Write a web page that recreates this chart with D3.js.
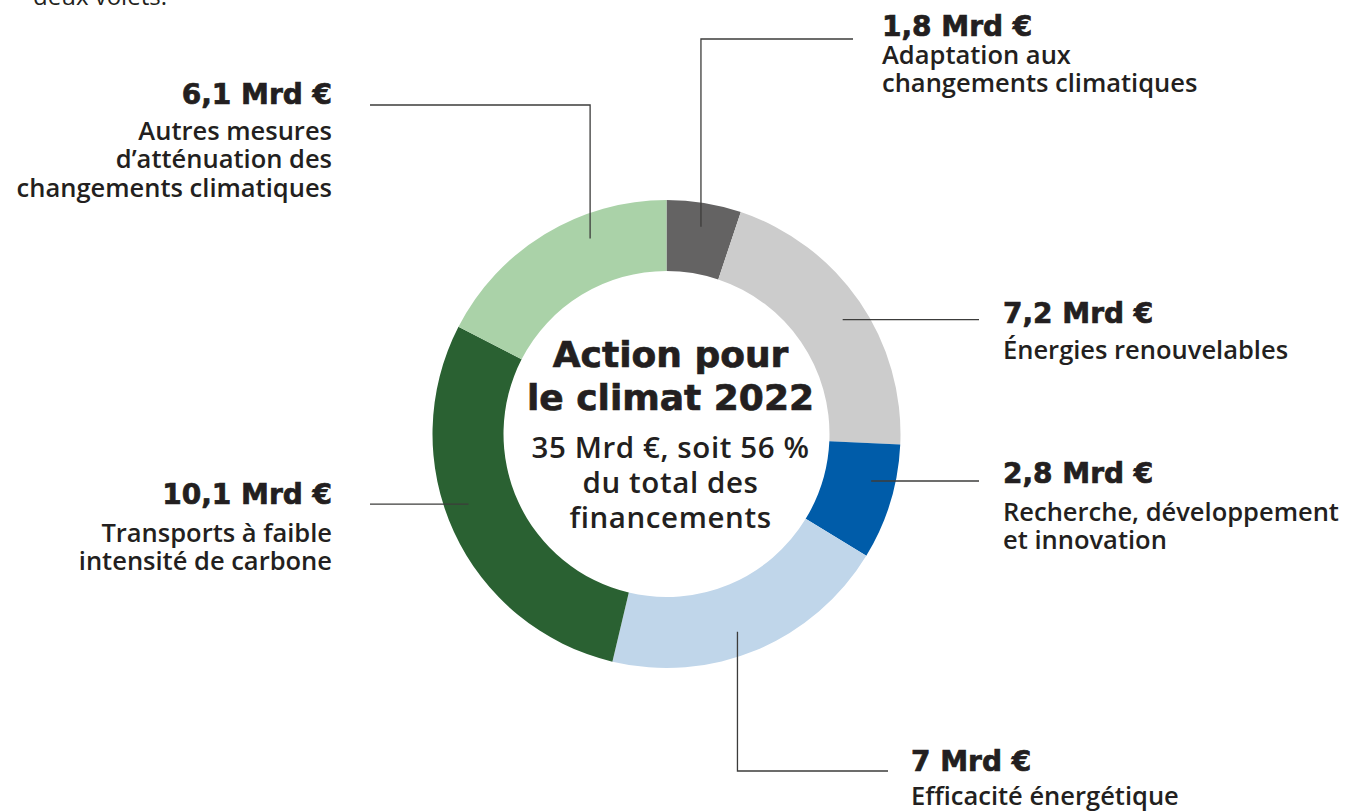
<!DOCTYPE html>
<html>
<head>
<meta charset="utf-8">
<script src="https://cdn.jsdelivr.net/npm/d3@7"></script>
<style>
  body { margin: 0; background: #fff; }
  svg { display: block; }
  .val { font-family: "DejaVu Sans", sans-serif; font-weight: 700; font-size: 28px; fill: #231f20;
         stroke: #231f20; stroke-width: 0.7px; }
  .sub { font-family: "Open Sans", sans-serif; font-weight: 600; font-size: 25.5px; fill: #231f20; }
</style>
</head>
<body>
<script>
let width = 1354,
    height = 811;

// data, clockwise from 12 o'clock
let categories = ["Adaptation aux changements climatiques",
                  "Énergies renouvelables",
                  "Recherche, développement et innovation",
                  "Efficacité énergétique",
                  "Transports à faible intensité de carbone",
                  "Autres mesures d’atténuation des changements climatiques"];
let values = [1.8, 7.2, 2.8, 7, 10.1, 6.1];
let valueLabels = ["1,8 Mrd €", "7,2 Mrd €", "2,8 Mrd €", "7 Mrd €", "10,1 Mrd €", "6,1 Mrd €"];
let labelLines = [["Adaptation aux", "changements climatiques"],
                  ["Énergies renouvelables"],
                  ["Recherche, développement", "et innovation"],
                  ["Efficacité énergétique"],
                  ["Transports à faible", "intensité de carbone"],
                  ["Autres mesures", "d’atténuation des", "changements climatiques"]];
let colors = ["#646363", "#cccccc", "#005ca9", "#c0d6ea", "#2a6132", "#aad2a8"];

let centerTitle = ["Action pour", "le climat 2022"];
let centerText = ["35 Mrd €, soit 56 %", "du total des", "financements"];

// layout of the callouts (t = position of the leader start inside the slice)
let callouts = [
  {t: 0.51, kind: "v", lineY: 39, endX: 853, x: 882, anchor: "start", valY: 36, subY: [64, 92]},
  {t: 0.52, kind: "h", endX: 979, x: 1003, anchor: "start", valY: 323, subY: [359]},
  {t: 0.36, kind: "h", endX: 979, x: 1003, anchor: "start", valY: 483, subY: [521, 549]},
  {t: 0.54, kind: "v", lineY: 771, endX: 888, x: 911, anchor: "start", valY: 771, subY: [805]},
  {t: 0.55, kind: "h", endX: 370, x: 332, anchor: "end", valY: 504, subY: [542, 570]},
  {t: 0.66, kind: "v", lineY: 105, endX: 370, x: 332, anchor: "end", valY: 104, subY: [140, 168, 197]}
];

let cx = 666.5, cy = 434,
    outerR = 234, innerR = 163, leaderR = 210;

let svg = d3.select("body")
            .append("svg")
            .attr("width", width)
            .attr("height", height);

// cut-off text from the page above
svg.append("text")
   .attr("class", "sub")
   .attr("x", 33)
   .attr("y", 5)
   .style("font-weight", 400)
   .style("font-size", "24px")
   .text("deux volets.");

let pie = d3.pie().sort(null).value(function(d) { return d; });
let arcs = pie(values);

let arc = d3.arc().innerRadius(innerR).outerRadius(outerR);

let g = svg.append("g").attr("transform", "translate(" + cx + "," + cy + ")");

g.selectAll("path.slice")
 .data(arcs)
 .enter()
 .append("path")
 .attr("class", "slice")
 .attr("d", arc)
 .attr("fill", function(d, i) { return colors[i]; });

// leader lines
function leaderPoints(d, i) {
  let c = callouts[i];
  let a = d.startAngle + (d.endAngle - d.startAngle) * c.t;
  let x0 = cx + leaderR * Math.sin(a),
      y0 = cy - leaderR * Math.cos(a);
  if (c.kind == "h") return [[x0, y0], [c.endX, y0]];
  return [[x0, y0], [x0, c.lineY], [c.endX, c.lineY]];
}

svg.selectAll("path.leader")
   .data(arcs)
   .enter()
   .append("path")
   .attr("class", "leader")
   .attr("d", function(d, i) { return d3.line()(leaderPoints(d, i)); })
   .attr("fill", "none")
   .attr("stroke", "#3c3c3b")
   .attr("stroke-width", 1.3);

// callout texts
let labels = svg.selectAll("g.label")
   .data(arcs)
   .enter()
   .append("g")
   .attr("class", "label");

labels.append("text")
   .attr("class", "val")
   .attr("x", function(d, i) { return callouts[i].x; })
   .attr("y", function(d, i) { return callouts[i].valY; })
   .attr("text-anchor", function(d, i) { return callouts[i].anchor; })
   .text(function(d, i) { return valueLabels[i]; });

labels.each(function(d, i) {
  let c = callouts[i];
  d3.select(this).selectAll("text.sub")
    .data(labelLines[i])
    .enter()
    .append("text")
    .attr("class", "sub")
    .attr("x", c.x)
    .attr("y", function(s, j) { return c.subY[j]; })
    .attr("text-anchor", c.anchor)
    .text(function(s) { return s; });
});

// centre text
svg.selectAll("text.title")
   .data(centerTitle)
   .enter()
   .append("text")
   .attr("class", "val title")
   .attr("x", 670.5)
   .attr("y", function(d, i) { return 367 + i * 43; })
   .attr("text-anchor", "middle")
   .style("font-size", "36px")
   .text(function(d) { return d; });

svg.selectAll("text.ctr")
   .data(centerText)
   .enter()
   .append("text")
   .attr("class", "sub ctr")
   .attr("x", 670.5)
   .attr("y", function(d, i) { return 458 + i * 35; })
   .attr("text-anchor", "middle")
   .style("font-size", "29.5px")
   .style("letter-spacing", "0.6px")
   .text(function(d) { return d; });
</script>
</body>
</html>
